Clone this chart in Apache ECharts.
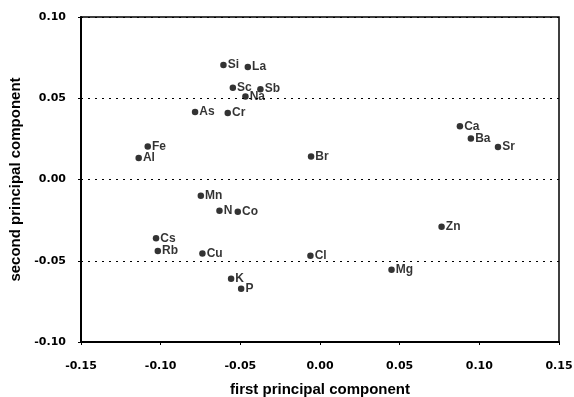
<!DOCTYPE html>
<html>
<head>
<meta charset="utf-8">
<script src="https://cdn.jsdelivr.net/npm/echarts@6/dist/echarts.min.js"></script>
<style>html,body{margin:0;padding:0;background:#fff}#c{width:574px;height:397px}</style>
</head>
<body>
<div id="c"></div>
<script>
const elements = ['Si','La','Sc','Sb','Na','As','Cr','Fe','Al','Br','Ca','Ba','Sr','Mn','N','Co','Cs','Rb','Cu','K','P','Cl','Mg','Zn'];
const pc1 = [-0.0606,-0.0453,-0.0547,-0.0374,-0.0468,-0.0784,-0.0579,-0.1081,-0.1138,-0.0056,0.0878,0.0947,0.1117,-0.0748,-0.0631,-0.0516,-0.1029,-0.1018,-0.0738,-0.0558,-0.0495,-0.0060,0.0449,0.0763];
const pc2 = [0.0705,0.0692,0.0565,0.0556,0.0511,0.0416,0.0410,0.0203,0.0133,0.0141,0.0327,0.0253,0.0200,-0.0100,-0.0193,-0.0199,-0.0362,-0.0440,-0.0455,-0.0611,-0.0673,-0.0469,-0.0556,-0.0290];
const xTicks = [-0.15,-0.10,-0.05,0.00,0.05,0.10,0.15];
const yTicks = [-0.10,-0.05,0.00,0.05,0.10];

const font = '"Liberation Sans", Arial, sans-serif';
const tickFont = '"DejaVu Sans", sans-serif';
const chart = echarts.init(document.getElementById('c'));
chart.setOption({
  animation:false,
  backgroundColor:'#fff',
  grid:{left:81,right:15,top:17,bottom:55,containLabel:false,outerBoundsMode:'none',show:true,borderColor:'#000',borderWidth:1.5,backgroundColor:'transparent'},
  xAxis:{
    type:'value',min:-0.15,max:0.15,interval:0.05,
    name:'first principal component',nameLocation:'middle',nameGap:40,
    nameTextStyle:{fontFamily:font,fontWeight:'bold',fontSize:15,color:'#000'},
    axisLine:{show:true,onZero:false,lineStyle:{color:'#000',width:2}},
    axisTick:{show:true,length:3,lineStyle:{color:'#000'}},
    axisLabel:{fontFamily:tickFont,fontWeight:'bold',fontSize:11,color:'#000',margin:19,
      formatter:v=>{const t=xTicks.find(a=>Math.abs(a-v)<1e-9);return (t===undefined?v:t).toFixed(2);}},
    splitLine:{show:false}
  },
  yAxis:{
    type:'value',min:-0.10,max:0.10,interval:0.05,
    name:'second principal component',nameLocation:'middle',nameGap:54,
    nameTextStyle:{fontFamily:font,fontWeight:'bold',fontSize:15,color:'#000'},
    axisLine:{show:true,onZero:false,lineStyle:{color:'#000',width:2}},
    axisTick:{show:true,length:3,lineStyle:{color:'#000'}},
    axisLabel:{fontFamily:tickFont,fontWeight:'bold',fontSize:11,color:'#000',margin:15,
      formatter:v=>{const t=yTicks.find(a=>Math.abs(a-v)<1e-9);return (t===undefined?v:t).toFixed(2);}},
    splitLine:{show:true,lineStyle:{color:'#000',type:[2,5],width:1}}
  },
  series:[{
    type:'scatter',
    symbol:'circle',symbolSize:6.5,
    itemStyle:{color:'#000'},
    data:elements.map((e,i)=>({name:e,value:[pc1[i],pc2[i]]})),
    label:{show:true,position:'right',distance:1,offset:[0,1],formatter:p=>p.name,
      fontFamily:font,fontWeight:'bold',fontSize:12,color:'#000'},
    labelLayout:{hideOverlap:false}
  }]
});
</script>
</body>
</html>
